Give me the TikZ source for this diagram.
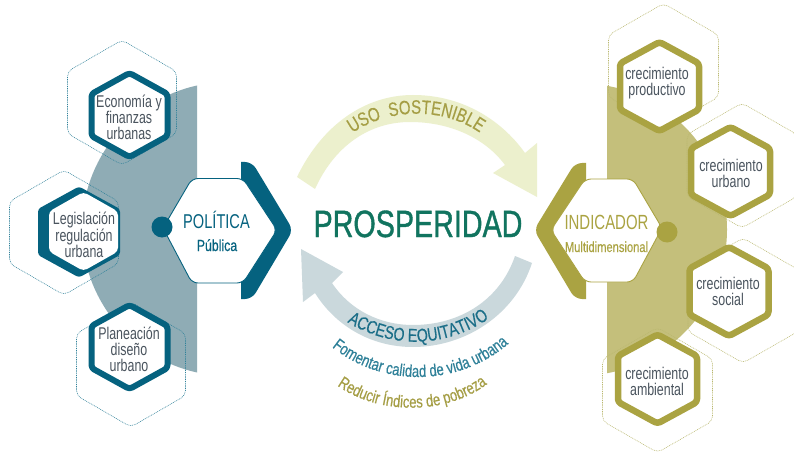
\documentclass[tikz,border=0pt]{standalone}
\usepackage{fontspec}
\usetikzlibrary{decorations.text}
\setmainfont{Liberation Sans}
\newfontfamily\cond[FakeStretch=0.73]{Liberation Sans}
\newfontfamily\condb[FakeStretch=0.77,FakeBold=0.4]{Liberation Sans}
\newfontfamily\condh[FakeStretch=0.755,FakeBold=1]{Liberation Sans}
\definecolor{tealD}{HTML}{05627F}
\definecolor{tealS}{HTML}{8FACB5}
\definecolor{tealL}{HTML}{2F8199}
\definecolor{oliveD}{HTML}{AAA342}
\definecolor{oliveS}{HTML}{C4BF7B}
\definecolor{oliveL}{HTML}{B9B76E}
\definecolor{arrowA}{HTML}{ECF0CD}
\definecolor{arrowB}{HTML}{CAD8DC}
\definecolor{greyT}{HTML}{4A545E}
\definecolor{green1}{HTML}{11745F}
\definecolor{tealT}{HTML}{1B6E88}
\definecolor{oliveT}{HTML}{A59E45}
\newcommand\hexat[5]{({#1},{#2-#4}) -- ({#1+#3},{#2-#5}) -- ({#1+#3},{#2+#5}) -- ({#1},{#2+#4}) -- ({#1-#3},{#2+#5}) -- ({#1-#3},{#2-#5}) -- cycle}
\tikzset{
  dotT/.style={draw=tealL,line width=.55pt,dash pattern=on .9pt off .9pt,rounded corners=5pt},
  dotO/.style={draw=oliveL,line width=.55pt,dash pattern=on .9pt off .9pt,rounded corners=5pt},
  ringT/.style={draw=tealD,fill=white,line width=6pt,line join=round,rounded corners=3pt},
  ringO/.style={draw=oliveD,fill=white,line width=6.5pt,line join=round,rounded corners=3pt},
  lab/.style={font=\cond\fontsize{17}{16}\selectfont,text=greyT,align=center,inner sep=0pt},
  big/.style={font=\cond\fontsize{#1}{#1}\selectfont,anchor=base,inner sep=0pt},
  bigb/.style={font=\condb\fontsize{#1}{#1}\selectfont,anchor=base,inner sep=0pt},
}
\begin{document}
\begin{tikzpicture}[x=1pt,y=-1pt]
\useasboundingbox (0,0) rectangle (794,457);
\fill[white] (0,0) rectangle (794,457);
% sectors
\begin{scope}
\clip (0,0) rectangle (197,457);
\fill[tealS] (229,229) circle (147pt);
\end{scope}
\begin{scope}
\clip (607,0) rectangle (794,457);
\fill[oliveS] (581,229.5) circle (146pt);
\end{scope}
% dotted hexes
\path[dotT] \hexat{122}{102.5}{54.5}{62.5}{31};
\path[dotT] \hexat{64}{232.5}{54.5}{62.5}{31};
\path[dotT] \hexat{131}{364.5}{54.5}{62.5}{31};
\path[dotO] \hexat{663.5}{66}{55}{62.5}{31};
\path[dotO] \hexat{742}{165.5}{55}{62.5}{31};
\path[dotO] \hexat{743}{300.5}{55}{62.5}{31};
\path[dotO] \hexat{657.5}{390}{55}{62.5}{31};
% thick hexes
\path[ringT] \hexat{129.5}{115}{38}{42}{21};
\fill[tealD,rounded corners=3pt] \hexat{79}{232}{41}{45.5}{23};
\fill[white,rounded corners=4pt] \hexat{83.5}{231.5}{34.5}{39.5}{20};
\path[ringT] \hexat{129.5}{347}{38}{42}{21};
\path[ringO] \hexat{659.5}{86.5}{39.5}{44.5}{23};
\path[ringO] \hexat{730.5}{171.5}{39.5}{44.5}{23};
\path[ringO] \hexat{729}{291.5}{39.5}{44.5}{23};
\path[ringO] \hexat{657.5}{379}{39.5}{44.5}{23};
% chevrons
\fill[tealD] (241,162) [rounded corners=7pt] -- (252,162) -- (293,230) -- (252,299) [sharp corners] -- (241,299) -- cycle;
\fill[oliveD] (586,163) [rounded corners=7pt] -- (575,163) -- (534,230) -- (575,299) [sharp corners] -- (586,299) -- cycle;
% centre hexes
\draw[tealD,fill=white,line width=.9pt,rounded corners=6pt] (163,228) -- (192,178.5) -- (243,178.5) -- (277,230) -- (243,283) -- (192,283) -- cycle;
\draw[oliveD,fill=white,line width=.9pt,rounded corners=6pt] (662,228) -- (633,179) -- (585,179) -- (551,230) -- (585,282) -- (633,282) -- cycle;
\fill[tealD] (162,227) circle (10.5pt);
\fill[oliveD] (667,232) circle (10.5pt);
% arrows
\fill[arrowA] (297,177) .. controls (322,125) and (365,95) .. (413,95) .. controls (460,95) and (500,118) .. (525,153) -- (537,143) -- (537,197) -- (493,173) -- (505,165) .. controls (485,138) and (450,122) .. (410,122) .. controls (370,122) and (335,145) .. (315,189) -- cycle;
\fill[arrowB] (532,263) .. controls (515,315) and (465,347) .. (413,347) .. controls (370,347) and (335,325) .. (315,293) -- (303,302) -- (301,249) -- (343,272) -- (332,283) .. controls (350,310) and (380,325) .. (413,325) .. controls (460,325) and (500,300) .. (515,256) -- cycle;
% curved labels
\path[decorate,decoration={text along path,text align=center,text={|\condb\fontsize{19.5}{19.5}\selectfont\color{oliveT}|USO{\ \ }SOSTENIBLE}}] (340,143) .. controls (380,105) and (452,103) .. (492,143);
\path[decorate,decoration={text along path,text align=center,text={|\condb\fontsize{18.5}{18.5}\selectfont\color{tealT}|ACCESO EQUITATIVO}}] (334,313) .. controls (385,352) and (450,352) .. (502,309);
\path[decorate,decoration={text along path,text align=center,text={|\condb\fontsize{17}{17}\selectfont\color{tealL}|Fomentar calidad de vida urbana}}] (315,331) .. controls (370,393) and (470,393) .. (525,327);
\path[decorate,decoration={text along path,text align=center,text={|\condb\fontsize{17}{17}\selectfont\color{oliveT}|Reducir Índices de pobreza}}] (322,372) .. controls (365,420) and (460,420) .. (502,370);
% main text
\node[font=\condh\fontsize{38}{38}\selectfont,anchor=base,inner sep=0pt,text=green1] (pros) at (418,237) {PROSPERIDAD};
\node[big=20,text=tealD] (poli) at (216.5,228) {POLÍTICA};
\node[bigb=16,text=tealD] (publ) at (217,251) {Pública};
\node[big=20.5,text=oliveD] (indi) at (606.5,229) {INDICADOR};
\node[bigb=14.5,text=oliveD] (mult) at (606.5,252) {Multidimensional};
\node[lab] (eco) at (129,117) {Economía y\\finanzas\\urbanas};
\node[lab] (leg) at (84,235) {Legislación\\regulación\\urbana};
\node[lab] (pla) at (129,349) {Planeación\\diseño\\urbano};
\node[lab] (cp) at (657,83) {crecimiento\\productivo};
\node[lab] (cu) at (731,173) {crecimiento\\urbano};
\node[lab] (cs) at (728,291) {crecimiento\\social};
\node[lab] (ca) at (657,381) {crecimiento\\ambiental};
\end{tikzpicture}
\end{document}
